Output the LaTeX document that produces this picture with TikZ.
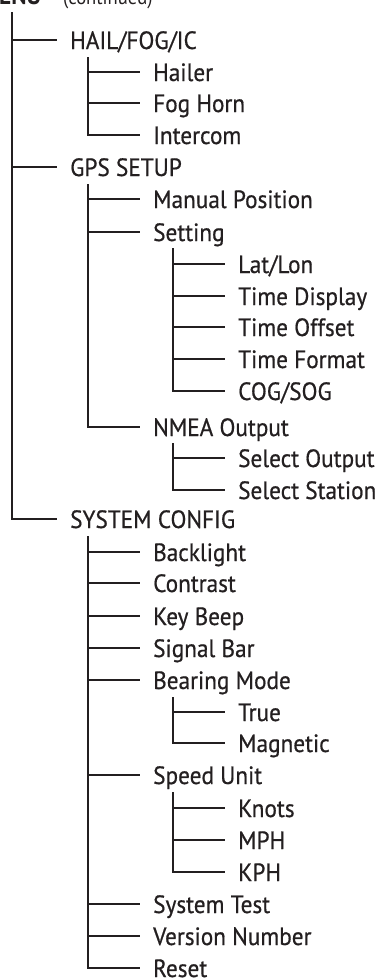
\documentclass[tikz,border=0pt]{standalone}
\usepackage{fontspec}
\setmainfont{PT Sans}[FakeStretch=0.93, FakeBold=0.6]
\newfontfamily\headfont{PT Sans}[FakeStretch=0.93]
\definecolor{linec}{RGB}{35,31,32}
\begin{document}
\begin{tikzpicture}[x=1pt,y=-1pt,
  item/.style={anchor=west, inner sep=0pt, text height=18pt, text depth=0pt, font=\fontsize{25}{25}\selectfont, text=linec},
  conn/.style={line width=2.3pt, draw=linec, line join=miter}]
\useasboundingbox (0,0) rectangle (378,978);
% heading (cut off at top)
\node[anchor=base west, inner sep=0pt, font=\headfont\bfseries\fontsize{25}{25}\selectfont, text=linec] (head) at (-1,4) {ENU};
\node[anchor=base west, inner sep=0pt, font=\headfont\fontsize{20}{20}\selectfont, text=linec] (cont) at (63,4) {(continued)};
\coordinate (root) at (12,12);
% level 0
\node[item] (hail) at (70,40) {HAIL/FOG/IC};
\node[item] (gps) at (70,167) {GPS SETUP};
\node[item] (sys) at (70,519) {SYSTEM CONFIG};
% HAIL children
\node[item] (hailer) at (153,72) {Hailer};
\node[item] (fog) at (153,103) {Fog Horn};
\node[item] (intercom) at (153,135) {Intercom};
% GPS children
\node[item] (manual) at (153,199) {Manual Position};
\node[item] (setting) at (153,232) {Setting};
\node[item] (latlon) at (238,264) {Lat/Lon};
\node[item] (tdisp) at (238,296) {Time Display};
\node[item] (toff) at (238,327) {Time Offset};
\node[item] (tfmt) at (238,359) {Time Format};
\node[item] (cog) at (238,391) {COG/SOG};
\node[item] (nmea) at (153,427) {NMEA Output};
\node[item] (selout) at (238,458) {Select Output};
\node[item] (selsta) at (238,490) {Select Station};
% SYSTEM CONFIG children
\node[item] (backlight) at (153,552) {Backlight};
\node[item] (contrast) at (153,583) {Contrast};
\node[item] (keybeep) at (153,616) {Key Beep};
\node[item] (sigbar) at (153,648) {Signal Bar};
\node[item] (bearing) at (153,680) {Bearing Mode};
\node[item] (true) at (238,712) {True};
\node[item] (magnetic) at (238,743) {Magnetic};
\node[item] (speed) at (153,775) {Speed Unit};
\node[item] (knots) at (238,808) {Knots};
\node[item] (mph) at (238,840) {MPH};
\node[item] (kph) at (238,872) {KPH};
\node[item] (systest) at (153,904) {System Test};
\node[item] (version) at (153,936) {Version Number};
\node[item] (reset) at (153,968) {Reset};
% vertical start points
\coordinate (hail-v) at ([xshift=18pt,yshift=-17pt]hail.west);
\coordinate (gps-v) at ([xshift=18pt,yshift=-17pt]gps.west);
\coordinate (sys-v) at ([xshift=18pt,yshift=-17pt]sys.west);
\coordinate (setting-v) at ([xshift=20pt,yshift=-16pt]setting.west);
\coordinate (nmea-v) at ([xshift=20pt,yshift=-16pt]nmea.west);
\coordinate (bearing-v) at ([xshift=20pt,yshift=-17pt]bearing.west);
\coordinate (speed-v) at ([xshift=20pt,yshift=-17pt]speed.west);
% connectors
\foreach \c in {hail,gps,sys} \draw[conn] (root) |- ([xshift=-13pt]\c.west);
\foreach \c in {hailer,fog,intercom} \draw[conn] (hail-v) |- ([xshift=-13pt]\c.west);
\foreach \c in {manual,setting,nmea} \draw[conn] (gps-v) |- ([xshift=-13pt]\c.west);
\foreach \c in {latlon,tdisp,toff,tfmt,cog} \draw[conn] (setting-v) |- ([xshift=-13pt]\c.west);
\foreach \c in {selout,selsta} \draw[conn] (nmea-v) |- ([xshift=-13pt]\c.west);
\foreach \c in {backlight,contrast,keybeep,sigbar,bearing,speed,systest,version,reset} \draw[conn] (sys-v) |- ([xshift=-13pt]\c.west);
\foreach \c in {true,magnetic} \draw[conn] (bearing-v) |- ([xshift=-13pt]\c.west);
\foreach \c in {knots,mph,kph} \draw[conn] (speed-v) |- ([xshift=-13pt]\c.west);
\end{tikzpicture}
\end{document}
